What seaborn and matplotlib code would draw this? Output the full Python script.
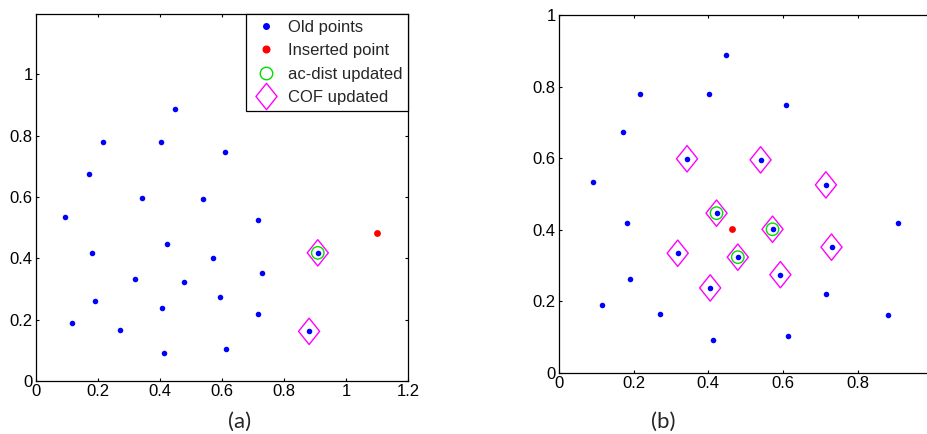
import numpy as np
import pandas as pd
import matplotlib
matplotlib.use("Agg")
import matplotlib.pyplot as plt
from matplotlib.path import Path
from matplotlib.lines import Line2D
import seaborn as sns

# ---- data ----
old_x = [0.448, 0.216, 0.402, 0.609, 0.172, 0.343, 0.540, 0.092, 0.715, 0.422,
         0.182, 0.572, 0.909, 0.730, 0.318, 0.479, 0.593, 0.189, 0.405, 0.715,
         0.115, 0.271, 0.881, 0.412, 0.613]
old_y = [0.887, 0.780, 0.778, 0.748, 0.674, 0.598, 0.595, 0.534, 0.525, 0.446,
         0.418, 0.401, 0.418, 0.351, 0.334, 0.323, 0.274, 0.262, 0.237, 0.220,
         0.188, 0.165, 0.162, 0.092, 0.103]
inserted_a = (1.101, 0.483)
inserted_b = (0.464, 0.402)
acdist_a = [12]
cof_a = [12, 22]
acdist_b = [9, 11, 15]
cof_b = [5, 6, 8, 9, 11, 13, 14, 15, 16, 18]
legend_labels = ["Old points", "Inserted point", "ac-dist updated", "COF updated"]
xticks_a = [0, 0.2, 0.4, 0.6, 0.8, 1, 1.2]
xticklabels_a = ["0", "0.2", "0.4", "0.6", "0.8", "1", "1.2"]
xticks_b = [0, 0.2, 0.4, 0.6, 0.8, 1]
xticklabels_b = ["0", "0.2", "0.4", "0.6", "0.8", ""]
yticks = [0, 0.2, 0.4, 0.6, 0.8, 1]
yticklabels = ["0", "0.2", "0.4", "0.6", "0.8", "1"]

BLUE, RED, GREEN, MAG = "#0000ff", "#ff0000", "#00dd00", "#ff00ff"

sns.set_style("ticks")
plt.rcParams["font.family"] = ["Liberation Sans", "DejaVu Sans"]
plt.rcParams["xtick.direction"] = "in"
plt.rcParams["ytick.direction"] = "in"
plt.rcParams["xtick.top"] = True
plt.rcParams["ytick.right"] = True

diamond = Path([(0, 1), (0.8, 0), (0, -1), (-0.8, 0), (0, 1)], closed=True)

df = pd.DataFrame({"x": old_x, "y": old_y})

fig = plt.figure(figsize=(9.28, 4.34), dpi=100)
axA = fig.add_axes([36/928, 1-381/434, 372/928, 367/434])
axB = fig.add_axes([559/928, 1-372.7/434, 373.3/928, 357.7/434])


def draw(ax, ins, acd, cof):
    sub_c = df.iloc[cof]
    sns.scatterplot(data=sub_c, x="x", y="y", ax=ax, marker=diamond, s=360,
                    facecolor="none", edgecolor=MAG, linewidth=1.0, legend=False, zorder=2)
    sub_a = df.iloc[acd]
    sns.scatterplot(data=sub_a, x="x", y="y", ax=ax, marker="o", s=80,
                    facecolor="none", edgecolor=GREEN, linewidth=1.0, legend=False, zorder=3)
    sns.scatterplot(data=df, x="x", y="y", ax=ax, marker="o", s=16,
                    color=BLUE, edgecolor=BLUE, linewidth=0, legend=False, zorder=4)
    sns.scatterplot(x=[ins[0]], y=[ins[1]], ax=ax, marker="o", s=24,
                    color=RED, edgecolor=RED, linewidth=0, legend=False, zorder=4)
    ax.set_xlabel("")
    ax.set_ylabel("")
    for sp in ax.spines.values():
        sp.set_visible(True)
        sp.set_linewidth(0.9)
        sp.set_color("black")
    ax.tick_params(labelsize=12, length=2.5, width=0.8, colors="black", pad=2.5)


draw(axA, inserted_a, acdist_a, cof_a)
axA.set_xlim(0, 1.2)
axA.set_ylim(0, 1.197)
axA.set_xticks(xticks_a)
axA.set_xticklabels(xticklabels_a)
axA.set_yticks(yticks)
axA.set_yticklabels(yticklabels)

draw(axB, inserted_b, acdist_b, cof_b)
axB.set_xlim(0, 1)
axB.set_ylim(0, 1)
axB.set_xticks(xticks_b)
axB.set_xticklabels(xticklabels_b)
axB.set_yticks(yticks)
axB.set_yticklabels(yticklabels)
axB.tick_params(right=False)

handles = [
    Line2D([], [], ls="none", marker="o", markersize=4.0, color=BLUE, mec=BLUE),
    Line2D([], [], ls="none", marker="o", markersize=4.8, color=RED, mec=RED),
    Line2D([], [], ls="none", marker="o", markersize=9, mfc="none", mec=GREEN, mew=1.0),
    Line2D([], [], ls="none", marker=diamond, markersize=19, mfc="none", mec=MAG, mew=1.0),
]
leg = axA.legend(handles, legend_labels, loc="upper right", borderaxespad=0,
                 fontsize=12, frameon=True, fancybox=False, edgecolor="black",
                 framealpha=1, labelspacing=0.5, handlelength=1.7,
                 handletextpad=0.45, borderpad=0.35)
leg.get_frame().set_linewidth(0.9)

fig.text(240/928, 1-422/434, "(a)", ha="center", va="center", fontsize=16,
         family=["Lato", "DejaVu Sans"])
fig.text(663/928, 1-422/434, "(b)", ha="center", va="center", fontsize=16,
         family=["Lato", "DejaVu Sans"])

fig.savefig("out.png", dpi=100)
